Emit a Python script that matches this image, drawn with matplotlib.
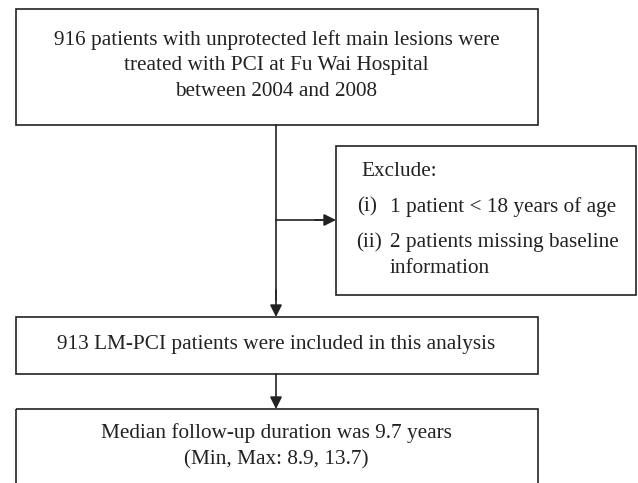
import matplotlib.pyplot as plt
from matplotlib.patches import Rectangle

# Flowchart text
top_text = ['916 patients with unprotected left main lesions were',
            'treated with PCI at Fu Wai Hospital',
            'between 2004 and 2008']
exclude_title = 'Exclude:'
exclude_marks = ['(i)', '(ii)']
exclude_items = [['1 patient < 18 years of age'],
                 ['2 patients missing baseline', 'information']]
middle_text = '913 LM-PCI patients were included in this analysis'
bottom_text = ['Median follow-up duration was 9.7 years',
               '(Min, Max: 8.9, 13.7)']

plt.rcParams['font.family'] = ['Liberation Serif', 'DejaVu Serif']

fig = plt.figure(figsize=(6.38, 4.83), dpi=100)
ax = fig.add_axes([0, 0, 1, 1])
ax.set_xlim(0, 638)
ax.set_ylim(483, 0)
ax.axis('off')

col = '#222222'
fs = 15.3

def box(x0, y0, x1, y1):
    ax.add_patch(Rectangle((x0, y0), x1 - x0, y1 - y0, fill=False,
                           edgecolor=col, linewidth=1.2))

def arrow(x0, y0, x1, y1):
    ax.annotate('', xy=(x1, y1), xytext=(x0, y0),
                arrowprops=dict(arrowstyle='-|>', color=col, lw=1.2,
                                mutation_scale=18, shrinkA=0, shrinkB=0))

# boxes
box(15.5, 8.5, 538, 125)
box(336, 146, 636, 295)
box(15.5, 317, 538, 374)
box(15.5, 409, 538, 500)

cx = 276.5
for i, t in enumerate(top_text):
    ax.text(cx, 40 + i * 25.5, t, ha='center', va='center', fontsize=fs, color=col)

ax.text(361, 172, exclude_title, ha='left', va='center', fontsize=fs, color=col)
mark_x = [357, 356]
item_y = [207, 243]
for mx, yy, mark, lines in zip(mark_x, item_y, exclude_marks, exclude_items):
    ax.text(mx, yy, mark, ha='left', va='center', fontsize=fs, color=col)
    for j, ln in enumerate(lines):
        ax.text(389.5, yy + j * 25.5, ln, ha='left', va='center', fontsize=fs, color=col)

ax.text(cx, 345, middle_text, ha='center', va='center', fontsize=fs, color=col)
for i, t in enumerate(bottom_text):
    ax.text(cx, 433 + i * 27, t, ha='center', va='center', fontsize=fs, color=col)

# arrows
ax.plot([276, 276], [125, 300], color=col, lw=1.2)
arrow(276, 290, 276, 317)
ax.plot([276, 322], [220, 220], color=col, lw=1.2)
arrow(315, 220, 336, 220)
arrow(276, 374, 276, 409)

fig.savefig('out.png', dpi=100)
